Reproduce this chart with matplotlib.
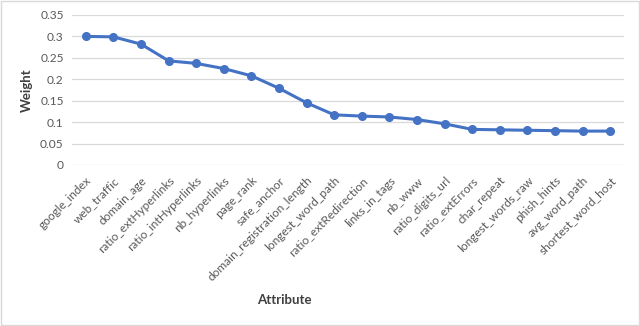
import matplotlib.pyplot as plt
from matplotlib.patches import Rectangle

attributes = [
    "google_index", "web_traffic", "domain_age", "ratio_extHyperlinks",
    "ratio_intHyperlinks", "nb_hyperlinks", "page_rank", "safe_anchor",
    "domain_registration_length", "longest_word_path", "ratio_extRedirection",
    "links_in_tags", "nb_www", "ratio_digits_url", "ratio_extErrors",
    "char_repeat", "longest_words_raw", "phish_hints", "avg_word_path",
    "shortest_word_host",
]
weights = [0.300, 0.299, 0.282, 0.243, 0.237, 0.225, 0.208, 0.179, 0.145, 0.117,
           0.114, 0.112, 0.106, 0.096, 0.083, 0.082, 0.081, 0.080, 0.079, 0.079]
yticks = [0, 0.05, 0.1, 0.15, 0.2, 0.25, 0.3, 0.35]
ytick_labels = ["0", "0.05", "0.1", "0.15", "0.2", "0.25", "0.3", "0.35"]

plt.rcParams["font.family"] = ["Lato", "DejaVu Sans"]

fig = plt.figure(figsize=(6.4, 3.26), dpi=100)
ax = fig.add_axes([0.1125, 0.494, 0.8625, 0.46])

x = list(range(len(attributes)))
ax.plot(x, weights, color="#4472C4", linewidth=2.2, marker="o", markersize=5.5)

ax.set_xlim(-0.5, len(attributes) - 0.5)
ax.set_ylim(0, 0.35)
ax.set_yticks(yticks)
ax.set_yticklabels(ytick_labels)
ax.set_xticks(x)
ax.set_xticklabels(attributes, rotation=45, ha="right", rotation_mode="anchor")
ax.tick_params(axis="both", length=0, labelsize=8.6, colors="#595959", pad=6)
ax.tick_params(axis="x", pad=7)
ax.grid(axis="y", color="#D9D9D9", linewidth=0.9)
ax.set_axisbelow(True)
for s in ax.spines.values():
    s.set_visible(False)

ax.set_ylabel("Weight", fontsize=9.5, fontweight="bold", color="#404040", labelpad=5)
fig.text(0.445, 0.08, "Attribute", fontsize=9.5, fontweight="bold", color="#404040",
         ha="center", va="center")

fig.patches.append(Rectangle((0.002, 0.003), 0.996, 0.994, transform=fig.transFigure,
                             fill=False, edgecolor="#D9D9D9", linewidth=1))

fig.savefig("out.png", dpi=100)
